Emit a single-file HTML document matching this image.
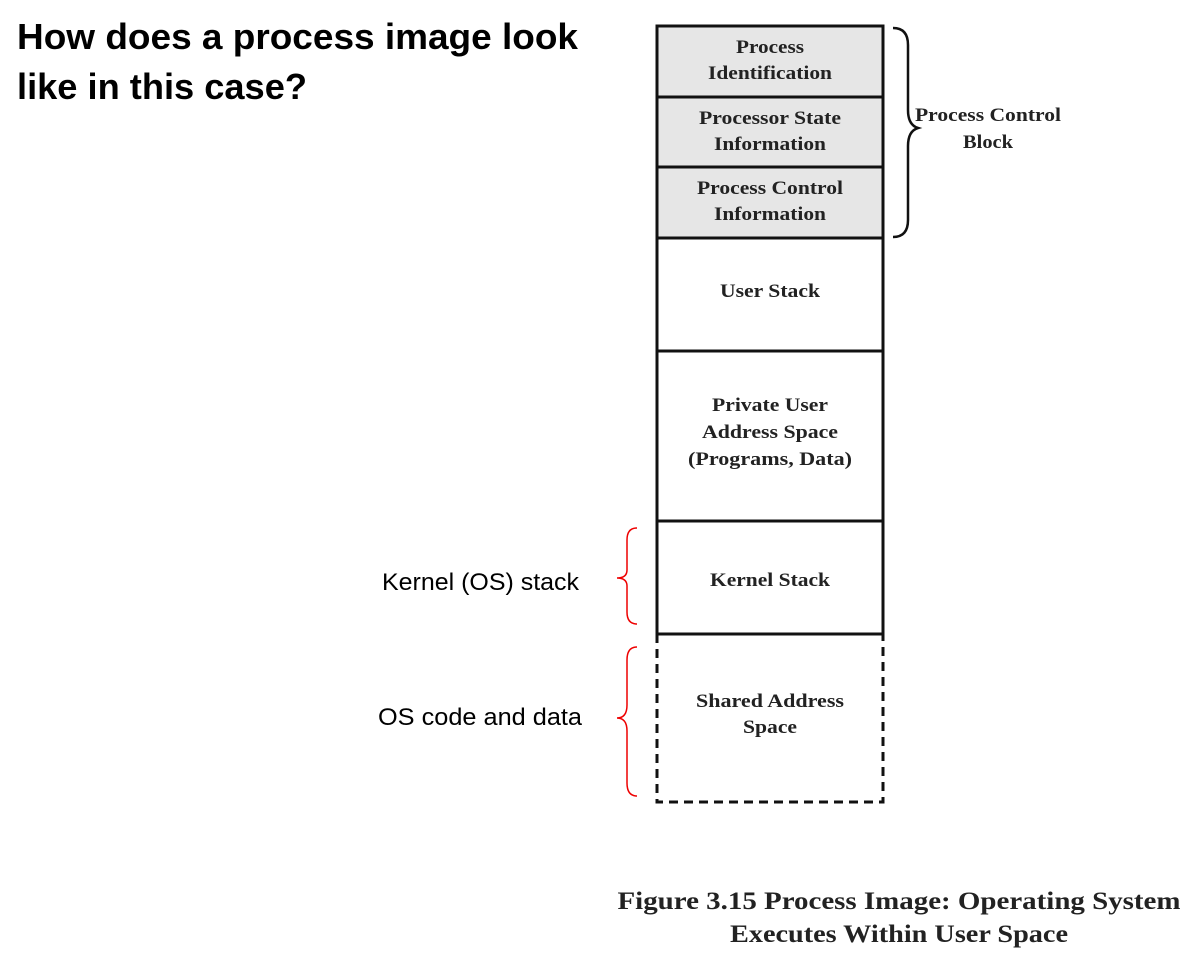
<!DOCTYPE html>
<html><head><meta charset="utf-8"><style>
body{margin:0;background:#fff;width:1191px;height:969px;overflow:hidden}
</style></head><body>
<svg width="1191" height="969" xmlns="http://www.w3.org/2000/svg">
<text x="17" y="49" font-family="Liberation Sans, sans-serif" font-weight="bold" font-size="36" textLength="561" lengthAdjust="spacingAndGlyphs">How does a process image look</text>
<text x="17" y="99" font-family="Liberation Sans, sans-serif" font-weight="bold" font-size="36" textLength="290" lengthAdjust="spacingAndGlyphs">like in this case?</text>
<rect x="657" y="26" width="226" height="212" fill="#e6e6e6"/>
<g stroke="#111" stroke-width="3" fill="none">
<path d="M657 634 V26 H883 V634"/>
<line x1="657" y1="97" x2="883" y2="97"/>
<line x1="657" y1="167" x2="883" y2="167"/>
<line x1="657" y1="238" x2="883" y2="238"/>
<line x1="657" y1="351" x2="883" y2="351"/>
<line x1="657" y1="521" x2="883" y2="521"/>
<line x1="657" y1="634" x2="883" y2="634"/>
<path d="M657 634 V802 H883 V634" stroke-dasharray="9,6"/>
<path d="M893 28 Q908 28 908 45 V110 Q908 125 918 128 Q908 131 908 146 V220 Q908 237 893 237" stroke-width="2.5"/>
</g>
<g stroke="#e00" stroke-width="1.5" fill="none">
<path d="M637 528 Q627 528 627 540 V570 Q627 578 617 578 Q627 578 627 586 V612 Q627 624 637 624"/>
<path d="M637 647 Q627 647 627 660 V705 Q627 718 617 718 Q627 718 627 731 V783 Q627 796 637 796"/>
</g>
<g font-family="Liberation Serif, serif" font-weight="bold" font-size="19" fill="#222" text-anchor="middle" lengthAdjust="spacingAndGlyphs">
<text x="770" y="53" textLength="68" lengthAdjust="spacingAndGlyphs">Process</text>
<text x="770" y="79" textLength="124" lengthAdjust="spacingAndGlyphs">Identification</text>
<text x="770" y="124" textLength="142" lengthAdjust="spacingAndGlyphs">Processor State</text>
<text x="770" y="150" textLength="112" lengthAdjust="spacingAndGlyphs">Information</text>
<text x="770" y="194" textLength="146" lengthAdjust="spacingAndGlyphs">Process Control</text>
<text x="770" y="220" textLength="112" lengthAdjust="spacingAndGlyphs">Information</text>
<text x="770" y="297" textLength="100" lengthAdjust="spacingAndGlyphs">User Stack</text>
<text x="770" y="411" textLength="116" lengthAdjust="spacingAndGlyphs">Private User</text>
<text x="770" y="438" textLength="136" lengthAdjust="spacingAndGlyphs">Address Space</text>
<text x="770" y="465" textLength="164" lengthAdjust="spacingAndGlyphs">(Programs, Data)</text>
<text x="770" y="586" textLength="120" lengthAdjust="spacingAndGlyphs">Kernel Stack</text>
<text x="770" y="707" textLength="148" lengthAdjust="spacingAndGlyphs">Shared Address</text>
<text x="770" y="733" textLength="54" lengthAdjust="spacingAndGlyphs">Space</text>
<text x="988" y="121" textLength="146" lengthAdjust="spacingAndGlyphs">Process Control</text>
<text x="988" y="148" textLength="50" lengthAdjust="spacingAndGlyphs">Block</text>
<text x="899" y="909" font-size="25" textLength="563" lengthAdjust="spacingAndGlyphs">Figure 3.15   Process Image: Operating System</text>
<text x="899" y="942" font-size="25" textLength="338" lengthAdjust="spacingAndGlyphs">Executes Within User Space</text>
</g>
<g font-family="Liberation Sans, sans-serif" font-size="24" fill="#000">
<text x="382" y="590" textLength="197" lengthAdjust="spacingAndGlyphs">Kernel (OS) stack</text>
<text x="378" y="725" textLength="204" lengthAdjust="spacingAndGlyphs">OS code and data</text>
</g>
</svg>
</body></html>
